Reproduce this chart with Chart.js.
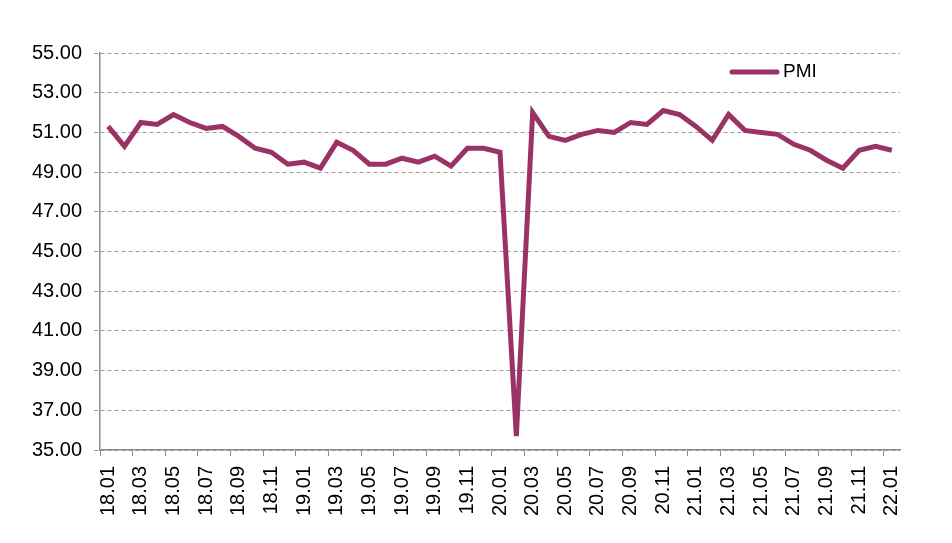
<!DOCTYPE html>
<html>
<head>
<meta charset="utf-8">
<script src="https://cdn.jsdelivr.net/npm/chart.js@4.4.1/dist/chart.umd.min.js"></script>
<style>
  html, body { margin: 0; padding: 0; background: #fff; }
  #wrap { width: 952px; height: 543px; }
</style>
</head>
<body>
<div id="wrap"><canvas id="pmiChart"></canvas></div>
<script>
// месяцы 2018.01 - 2022.01
const months = [
  '18.01','18.02','18.03','18.04','18.05','18.06','18.07','18.08','18.09','18.10','18.11','18.12',
  '19.01','19.02','19.03','19.04','19.05','19.06','19.07','19.08','19.09','19.10','19.11','19.12',
  '20.01','20.02','20.03','20.04','20.05','20.06','20.07','20.08','20.09','20.10','20.11','20.12',
  '21.01','21.02','21.03','21.04','21.05','21.06','21.07','21.08','21.09','21.10','21.11','21.12',
  '22.01'
];

const pmiValues = [
  51.3, 50.3, 51.5, 51.4, 51.9, 51.5, 51.2, 51.3, 50.8, 50.2, 50.0, 49.4,
  49.5, 49.2, 50.5, 50.1, 49.4, 49.4, 49.7, 49.5, 49.8, 49.3, 50.2, 50.2,
  50.0, 35.7, 52.0, 50.8, 50.6, 50.9, 51.1, 51.0, 51.5, 51.4, 52.1, 51.9,
  51.3, 50.6, 51.9, 51.1, 51.0, 50.9, 50.4, 50.1, 49.6, 49.2, 50.1, 50.3,
  50.1
];

const lineColor = '#993366';
const axisColor = '#8c8c8c';

// легенда внутри области графика
const innerLegend = {
  id: 'innerLegend',
  afterDraw(chart) {
    const ctx = chart.ctx;
    const x = 730, y = 72;
    ctx.save();
    ctx.strokeStyle = lineColor;
    ctx.lineWidth = 5;
    ctx.lineCap = 'round';
    ctx.beginPath();
    ctx.moveTo(x + 2, y);
    ctx.lineTo(x + 47, y);
    ctx.stroke();
    ctx.fillStyle = '#000';
    ctx.font = '19px "Liberation Sans", Arial, sans-serif';
    ctx.textBaseline = 'middle';
    ctx.fillText(chart.data.datasets[0].label, x + 53, y);
    ctx.restore();
  }
};

new Chart(document.getElementById('pmiChart'), {
  type: 'line',
  data: {
    labels: months,
    datasets: [{
      label: 'PMI',
      data: pmiValues,
      borderColor: lineColor,
      borderWidth: 5,
      pointRadius: 0,
      tension: 0,
      borderJoinStyle: 'miter'
    }]
  },
  options: {
    responsive: true,
    maintainAspectRatio: false,
    animation: false,
    layout: { padding: { top: 53, right: 52, left: 0, bottom: 0 } },
    plugins: {
      legend: { display: false },
      tooltip: { enabled: false }
    },
    scales: {
      x: {
        offset: true,
        grid: {
          offset: true,
          drawOnChartArea: false,
          tickLength: 6,
          color: c => (c.index % 2 === 0 ? axisColor : 'rgba(0,0,0,0)')
        },
        border: { color: axisColor, width: 1.5 },
        ticks: {
          autoSkip: false,
          minRotation: 90,
          maxRotation: 90,
          padding: 10,
          color: '#000',
          font: { family: '"Liberation Sans", Arial, sans-serif', size: 20 },
          callback: function (value, index) {
            return index % 2 === 0 ? this.getLabelForValue(value) : '';
          }
        },
        afterFit: scale => { scale.height = 93; }
      },
      y: {
        min: 35,
        max: 55,
        grid: {
          color: '#9a9a9a',
          tickLength: 6,
          tickBorderDash: [4, 3]
        },
        border: { color: axisColor, width: 1.5, dash: [4, 3] },
        ticks: {
          stepSize: 2,
          padding: 12,
          color: '#000',
          font: { family: '"Liberation Sans", Arial, sans-serif', size: 20 },
          callback: value => value.toFixed(2)
        },
        afterFit: scale => { scale.width = 100; }
      }
    }
  },
  plugins: [innerLegend]
});
</script>
</body>
</html>
